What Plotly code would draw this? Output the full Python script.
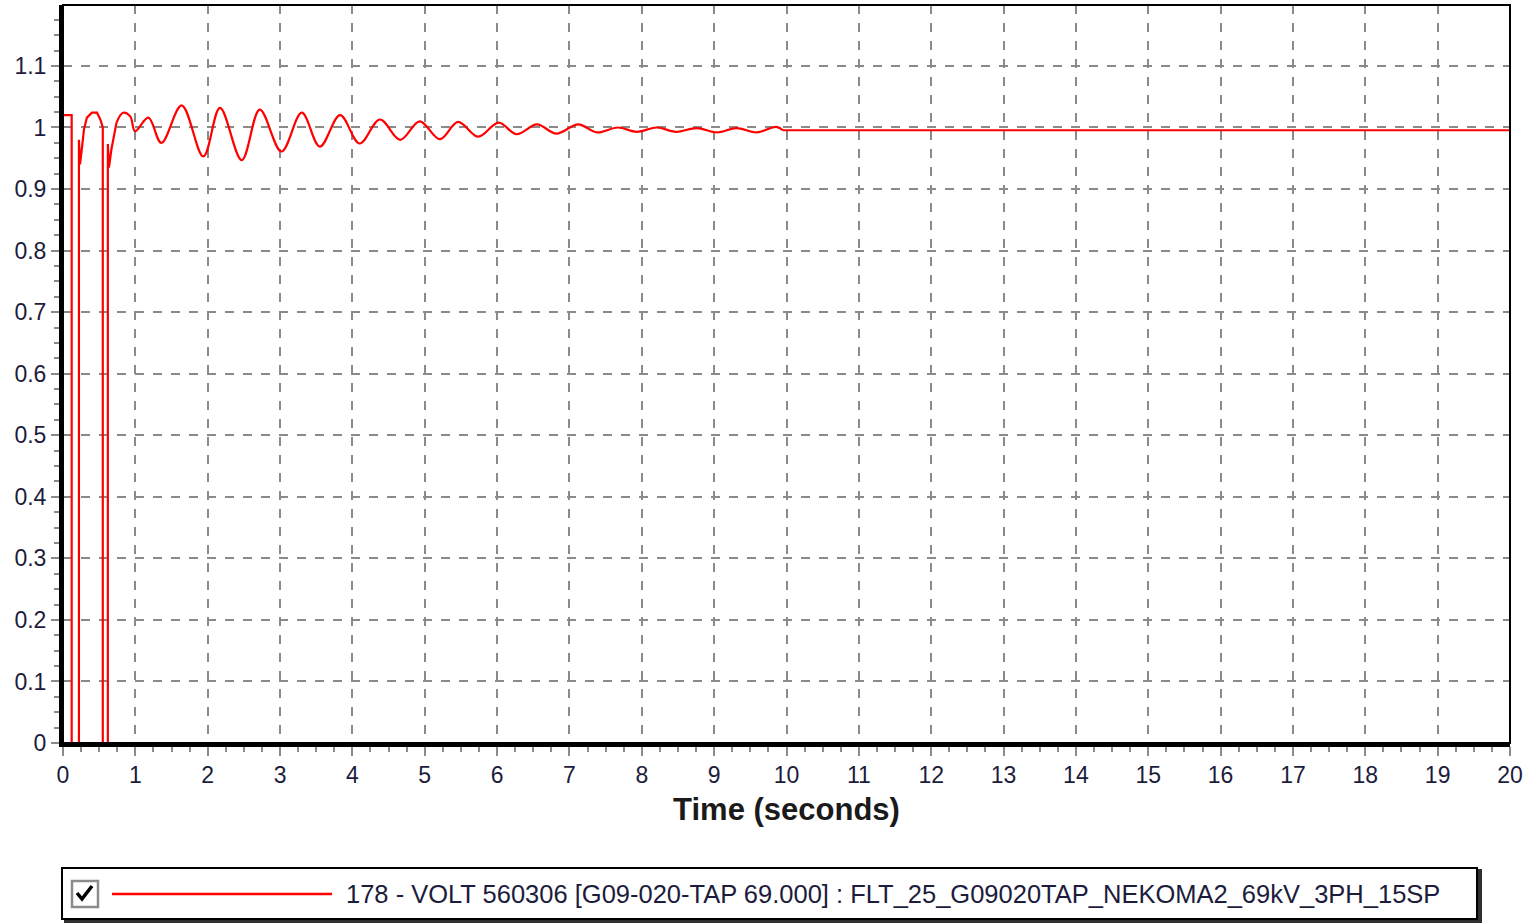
import plotly.graph_objects as go

# ---- data ----
# fault transient (sharp steps)
t_fault = [0.0, 0.12, 0.12, 0.22, 0.22, 0.235, 0.26, 0.29, 0.33, 0.40, 0.47, 0.52, 0.55, 0.55, 0.62, 0.62, 0.635, 0.67, 0.74]
v_fault = [1.02, 1.02, 0.0, 0.0, 0.98, 0.94, 0.965, 0.997, 1.016, 1.024, 1.024, 1.012, 1.0, 0.0, 0.0, 0.973, 0.935, 0.965, 1.008]

# post-fault oscillation (extrema)
t_osc = [0.74, 0.83, 0.93, 0.995, 1.18, 1.36, 1.64, 1.94, 2.17, 2.47, 2.72, 3.02, 3.30, 3.55, 3.83, 4.10,
         4.38, 4.66, 4.93, 5.21, 5.46, 5.74, 6.02, 6.27, 6.55, 6.82, 7.12, 7.38, 7.67, 7.93, 8.21, 8.47,
         8.76, 9.04, 9.31, 9.59, 9.86, 9.95]
v_osc = [1.008, 1.024, 1.018, 0.994, 1.016, 0.975, 1.036, 0.953, 1.032, 0.947, 1.029, 0.961, 1.024, 0.969, 1.020, 0.974,
         1.013, 0.980, 1.010, 0.981, 1.009, 0.985, 1.008, 0.989, 1.005, 0.990, 1.005, 0.992, 1.000, 0.993, 1.000, 0.993,
         0.999, 0.992, 0.999, 0.992, 1.001, 0.9955]

# settled tail
t_tail = [9.95, 20.0]
v_tail = [0.9955, 0.9955]

x_ticks = list(range(0, 21))
y_ticks = [0.0, 0.1, 0.2, 0.3, 0.4, 0.5, 0.6, 0.7, 0.8, 0.9, 1.0, 1.1]
y_labels = ["0", "0.1", "0.2", "0.3", "0.4", "0.5", "0.6", "0.7", "0.8", "0.9", "1", "1.1"]
legend_text = "178 - VOLT 560306 [G09-020-TAP 69.000] : FLT_25_G09020TAP_NEKOMA2_69kV_3PH_15SP"

RED = "#ff0000"
W, H = 1534, 923
L, R, T, B = 63, 1510, 5, 743  # plot area in pixels

def px(x):
    return (x - L) / (R - L)

def py(y):
    return (B - y) / (B - T)

fig = go.Figure()
fig.add_trace(go.Scatter(x=t_fault, y=v_fault, mode="lines", line=dict(color=RED, width=2.2), showlegend=False, hoverinfo="skip"))
fig.add_trace(go.Scatter(x=t_osc, y=v_osc, mode="lines", line=dict(color=RED, width=2.2, shape="spline", smoothing=1.0), showlegend=False, hoverinfo="skip"))
fig.add_trace(go.Scatter(x=t_tail, y=v_tail, mode="lines", line=dict(color=RED, width=2.2), showlegend=False, hoverinfo="skip"))

tickfont = dict(family="Liberation Sans, Arial, sans-serif", size=23, color="#1c1c3c")

fig.update_xaxes(
    range=[0, 20], tickvals=x_ticks, ticktext=[str(v) for v in x_ticks],
    showgrid=True, gridcolor="#8a8a8a", griddash="dash", gridwidth=1.5,
    zeroline=False, showline=True, linecolor="black", linewidth=3.5,
    ticks="outside", ticklen=9, tickcolor="#8a8a8a", tickwidth=2,
    minor=dict(dtick=0.25, ticks="outside", ticklen=5, tickcolor="#8a8a8a", tickwidth=1.5, showgrid=False),
    tickfont=tickfont,
    title=dict(text="<b>Time (seconds)</b>", font=dict(family="Liberation Sans, Arial, sans-serif", size=31, color="#1a1a1a"), standoff=12),
)
fig.update_yaxes(
    range=[0, 1.199], tickvals=y_ticks, ticktext=y_labels,
    showgrid=True, gridcolor="#8a8a8a", griddash="dash", gridwidth=1.5,
    zeroline=False, showline=True, linecolor="black", linewidth=4,
    ticks="outside", ticklen=8, tickcolor="#8a8a8a", tickwidth=2,
    minor=dict(dtick=0.025, ticks="outside", ticklen=5, tickcolor="#8a8a8a", tickwidth=1.5, showgrid=False),
    tickfont=tickfont,
)

shapes = []
# top/right border of plot frame
shapes.append(dict(type="rect", xref="paper", yref="paper", x0=0, x1=1, y0=0, y1=1,
                   line=dict(color="black", width=2), layer="above"))
# legend box: shadow + box
shapes.append(dict(type="rect", xref="paper", yref="paper", x0=px(65), x1=px(1481), y0=py(922), y1=py(870),
                   line=dict(color="#303030", width=2), fillcolor="#303030", layer="above"))
shapes.append(dict(type="rect", xref="paper", yref="paper", x0=px(62), x1=px(1477), y0=py(919), y1=py(868),
                   line=dict(color="black", width=2), fillcolor="white", layer="above"))
# checkbox
shapes.append(dict(type="rect", xref="paper", yref="paper", x0=px(72), x1=px(98), y0=py(907), y1=py(881),
                   line=dict(color="#8c8c8c", width=2.5), fillcolor="white", layer="above"))
shapes.append(dict(type="path", xref="paper", yref="paper",
                   path=f"M {px(77)} {py(893)} L {px(82)} {py(899)} L {px(92)} {py(886)}",
                   line=dict(color="black", width=3.5), layer="above"))
# legend line sample
shapes.append(dict(type="line", xref="paper", yref="paper", x0=px(112), x1=px(332), y0=py(894), y1=py(894),
                   line=dict(color=RED, width=2.5), layer="above"))

fig.update_layout(
    width=W, height=H,
    margin=dict(l=L, r=W - R, t=T, b=H - B),
    paper_bgcolor="white", plot_bgcolor="white",
    showlegend=False,
    shapes=shapes,
    annotations=[dict(text=legend_text, xref="paper", yref="paper", x=px(344), y=py(894),
                      xanchor="left", yanchor="middle", showarrow=False,
                      font=dict(family="Liberation Sans, Arial, sans-serif", size=25.5, color="#1c1c3c"))],
)

fig.write_html("out.html", config={"displayModeBar": False},
               post_script="document.body.style.margin='0px'; document.body.style.overflow='hidden';")
